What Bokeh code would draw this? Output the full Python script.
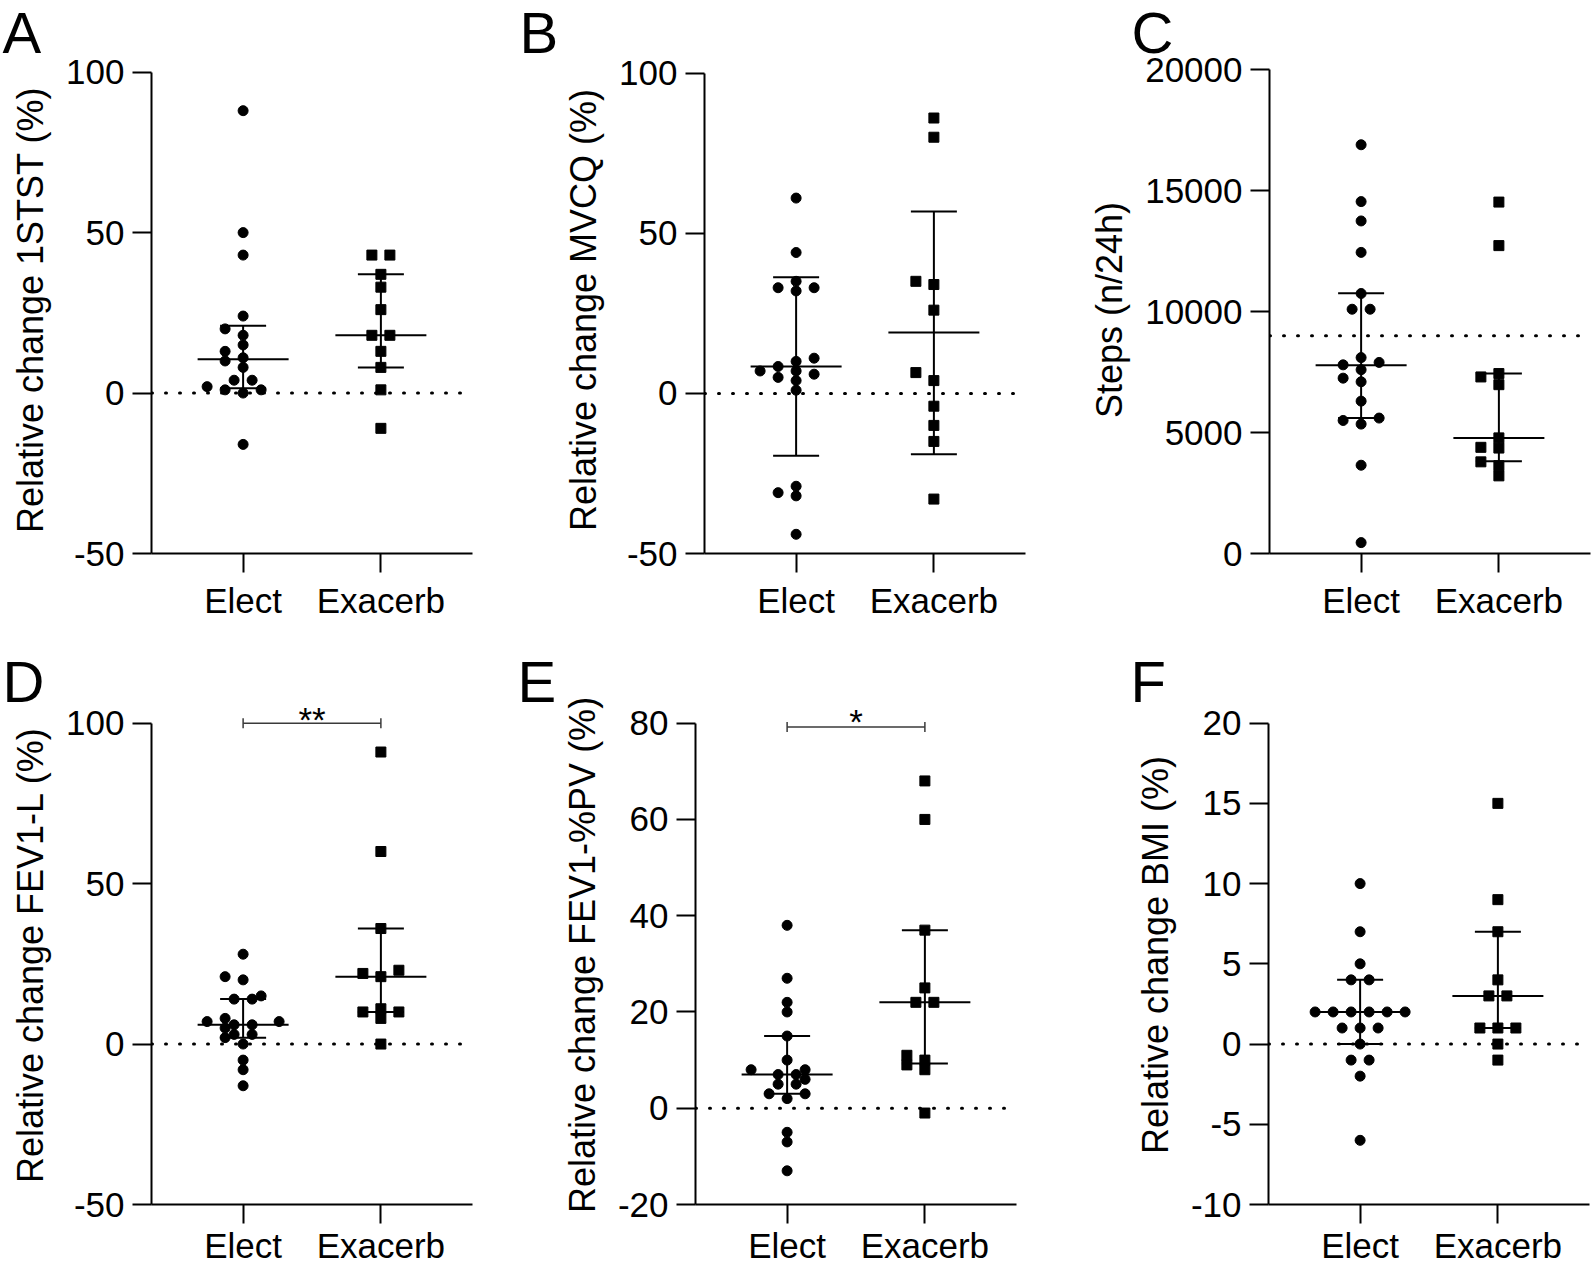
import numpy as np
from bokeh.plotting import figure
from bokeh.models import Span, Label, FixedTicker
from bokeh.layouts import row, column
from bokeh.embed import file_html
from bokeh.resources import INLINE

FONT = "Liberation Sans"

# ---------------- data ----------------
categories = ["Elect", "Exacerb"]
panel_letters = ["A", "B", "C", "D", "E", "F"]
y_titles = ["Relative change 1STST (%)", "Relative change MVCQ (%)", "Steps (n/24h)",
            "Relative change FEV1-L (%)", "Relative change FEV1-%PV (%)", "Relative change BMI (%)"]

a_elect = [88, 50, 43, 24, 20, 18, 15, 13, 11, 10, 8, 4, 4, 2, 1, 1, 0, -16]
a_exac = [43, 43, 37, 33, 26, 18, 18, 13, 8, 1, -11]
a_median = [10.5, 18]
a_q1 = [1.5, 8]
a_q3 = [21, 37]

b_elect = [61, 44, 35, 33, 33, 32, 11, 10, 8.4, 7, 7, 6, 5, 4, 1, -29, -31, -32, -44]
b_exac = [86, 80, 35, 34, 26, 6.5, 4, -4, -10, -15, -33]
b_median = [8.4, 19]
b_q1 = [-19.5, -19]
b_q3 = [36.3, 56.8]

c_elect = [16900, 14550, 13750, 12450, 10750, 10100, 10100, 8100, 7900, 7800, 7600,
           7250, 7100, 6300, 5600, 5500, 5350, 3650, 450]
c_exac = [14530, 12730, 7440, 7300, 6980, 4780, 4390, 4360, 3790, 3630, 3210]
c_median = [7780, 4780]
c_q1 = [5600, 3810]
c_q3 = [10760, 7440]

d_elect = [28, 21, 20, 15, 14, 14, 8, 7, 7, 6, 6, 5, 3, 3, 2, 0, -5, -8, -13]
d_exac = [91, 60, 36, 23, 22, 21, 11, 10, 10, 8, 0]
d_median = [6, 21]
d_q1 = [2, 10]
d_q3 = [14, 36]

e_elect = [38, 27, 22, 20, 15, 10, 8, 8, 7, 7, 6, 5, 5, 3, 3, 2, -5, -7, -13]
e_exac = [68, 60, 37, 25, 22, 22, 11, 10, 9, 8, -1]
e_median = [7, 22]
e_q1 = [3, 9.3]
e_q3 = [15, 37]

f_elect = [10, 7, 5, 4, 4, 2, 2, 2, 2, 2, 2, 1, 1, 1, 0, -1, -1, -2, -6]
f_exac = [15, 9, 7, 4, 3, 3, 1, 1, 1, 0, -1]
f_median = [2, 3]
f_q1 = [0, 1]
f_q3 = [4, 7]

y_ticks = [[-50, 0, 50, 100], [-50, 0, 50, 100], [0, 5000, 10000, 15000, 20000],
           [-50, 0, 50, 100], [-20, 0, 20, 40, 60, 80], [-10, -5, 0, 5, 10, 15, 20]]
ref_lines = [0, 0, 9000, 0, 0, 0]
sig_levels = {"D": 100, "E": 79.2}
sig_labels = {"D": "**", "E": "*"}

series = [
    (a_elect, a_exac, a_median, a_q1, a_q3),
    (b_elect, b_exac, b_median, b_q1, b_q3),
    (c_elect, c_exac, c_median, c_q1, c_q3),
    (d_elect, d_exac, d_median, d_q1, d_q3),
    (e_elect, e_exac, e_median, e_q1, e_q3),
    (f_elect, f_exac, f_median, f_q1, f_q3),
]

# ---------------- layout (pixels) ----------------
# w/h: total figure size; bl/br/bt/bb: borders (equal top/bottom within a row);
# yr: data range of the frame; bounds: drawn extent of the y axis;
# lx/ly: letter offset; so: star offset; xs: x tick label standoff
LAY = {
    "A": dict(w=515, h=639, bl=151, br=43, bt=66, bb=86, xr=(0.335, 2.665), yr=(-50, 101.77), bounds=(-50, 100), lx=-149, ly=34, xs=8),
    "B": dict(w=547, h=639, bl=189, br=37, bt=66, bb=86, xr=(0.335, 2.665), yr=(-50, 102.09), bounds=(-50, 100), lx=-185, ly=34, xs=8),
    "C": dict(w=532, h=639, bl=207, br=4, bt=66, bb=86, xr=(0.335, 2.665), yr=(0, 20136), bounds=(0, 20000), lx=-138, ly=34, xs=8),
    "D": dict(w=515, h=628, bl=151, br=43, bt=66, bb=62, xr=(0.335, 2.665), yr=(-50, 105.5), bounds=(-50, 100), lx=-149, ly=24, so=4, xs=2),
    "E": dict(w=547, h=628, bl=180, br=46, bt=66, bb=62, xr=(0.335, 2.665), yr=(-20, 83.67), bounds=(-20, 80), lx=-178, ly=24, so=6, xs=2),
    "F": dict(w=532, h=628, bl=206, br=5, bt=66, bb=62, xr=(0.335, 2.665), yr=(-10, 21.10), bounds=(-10, 20), lx=-138, ly=24, xs=2),
}


def swarm_offsets(vals, ppx, ppy, slot_px=18.0, min_dy_px=9.0):
    """Simple beeswarm: put each point in the nearest free column slot."""
    vals = np.asarray(vals, dtype=float)
    order = np.argsort(vals, kind="stable")
    used = {}
    slots = np.zeros(len(vals))
    seq = [0] + [s for k in range(1, 12) for s in (-k, k)]
    for i in order:
        y = vals[i] * ppy
        for s in seq:
            if all(abs(y - yy) >= min_dy_px for yy in used.get(s, [])):
                used.setdefault(s, []).append(y)
                slots[i] = s
                break
    # centre rows of tied values
    for v in np.unique(vals):
        idx = np.where(vals == v)[0]
        if len(idx) > 1:
            ss = np.sort(slots[idx])
            if np.all(np.diff(ss) == 1):
                slots[idx] -= ss.mean()
    return slots * slot_px / ppx


def make_panel(k):
    letter = panel_letters[k]
    lay = LAY[letter]
    elect, exac, med, q1, q3 = series[k]
    p = figure(width=lay["w"], height=lay["h"],
               min_border_left=lay["bl"], min_border_right=lay["br"],
               min_border_top=lay["bt"], min_border_bottom=lay["bb"],
               x_range=lay["xr"], y_range=lay["yr"],
               output_backend="svg", toolbar_location=None, tools="")
    p.outline_line_color = None
    p.xgrid.visible = False
    p.ygrid.visible = False
    p.background_fill_color = "white"
    p.border_fill_color = "white"

    for ax in (p.xaxis[0], p.yaxis[0]):
        ax.axis_line_width = 2
        ax.axis_line_color = "black"
        ax.major_tick_line_width = 2
        ax.major_tick_line_color = "black"
        ax.major_tick_out = 19
        ax.major_tick_in = 0
        ax.minor_tick_out = 0
        ax.minor_tick_in = 0
        ax.major_label_text_font = FONT
        ax.major_label_text_font_size = "35px"
        ax.major_label_text_color = "black"
    p.xaxis.ticker = FixedTicker(ticks=[1, 2])
    p.xaxis.major_label_overrides = {1: categories[0], 2: categories[1]}
    p.xaxis.major_label_standoff = lay["xs"]
    yt = y_ticks[k]
    p.yaxis.ticker = FixedTicker(ticks=yt)
    p.yaxis.major_label_overrides = {t: str(t) for t in yt}
    p.yaxis.major_label_standoff = 8
    p.yaxis.axis_label = y_titles[k]
    p.yaxis.axis_label_text_font = FONT
    p.yaxis.axis_label_text_font_size = "36px"
    p.yaxis.axis_label_text_font_style = "normal"
    p.yaxis.axis_label_text_color = "black"
    p.yaxis.axis_label_standoff = 12
    p.yaxis.bounds = lay["bounds"]

    fw = lay["w"] - lay["bl"] - lay["br"]
    fh = lay["h"] - lay["bt"] - lay["bb"]
    ppx = fw / (lay["xr"][1] - lay["xr"][0])
    ppy = fh / (lay["yr"][1] - lay["yr"][0])

    p.add_layout(Span(location=ref_lines[k], dimension="width", line_color="black",
                      line_width=3, line_dash="1 13", line_cap="round", level="underlay"))

    g = np.array([1.0, 2.0])
    med_hw = 45.5 / ppx
    cap_hw = 23.0 / ppx
    lw = 2
    p.segment(x0=g - med_hw, x1=g + med_hw, y0=med, y1=med, line_width=lw, line_color="black")
    p.segment(x0=g - cap_hw, x1=g + cap_hw, y0=q1, y1=q1, line_width=lw, line_color="black")
    p.segment(x0=g - cap_hw, x1=g + cap_hw, y0=q3, y1=q3, line_width=lw, line_color="black")
    p.segment(x0=g, x1=g, y0=q1, y1=q3, line_width=lw, line_color="black")

    for gi, (vals, marker) in enumerate([(elect, "circle"), (exac, "square")]):
        off = swarm_offsets(vals, ppx, ppy)
        p.scatter(x=(gi + 1) + off, y=vals, marker=marker, size=10,
                  fill_color="black", line_color="black", line_width=1)

    if letter in sig_levels:
        lvl = sig_levels[letter]
        th = 5.0 / ppy
        p.segment(x0=[1], x1=[2], y0=[lvl], y1=[lvl], line_color="#3a3a3a", line_width=1.5)
        p.segment(x0=g, x1=g, y0=lvl - th, y1=lvl + th, line_color="#3a3a3a", line_width=1.5)
        p.add_layout(Label(x=1.5, y=lvl, text=sig_labels[letter], text_align="center",
                           text_baseline="alphabetic", y_offset=lay["so"], text_font=FONT,
                           text_font_size="35px", text_color="black"))

    p.add_layout(Label(x=lay["lx"], y=lay["ly"], x_units="screen", y_units="screen",
                       text=letter, text_font=FONT, text_font_size="58px",
                       text_align="left", text_baseline="alphabetic", text_color="black"),
                 "above")
    return p


panels = [make_panel(k) for k in range(6)]
layout = column(row(*panels[:3]), row(*panels[3:]))
open("out.html", "w").write(file_html(layout, INLINE, title="Figure"))
